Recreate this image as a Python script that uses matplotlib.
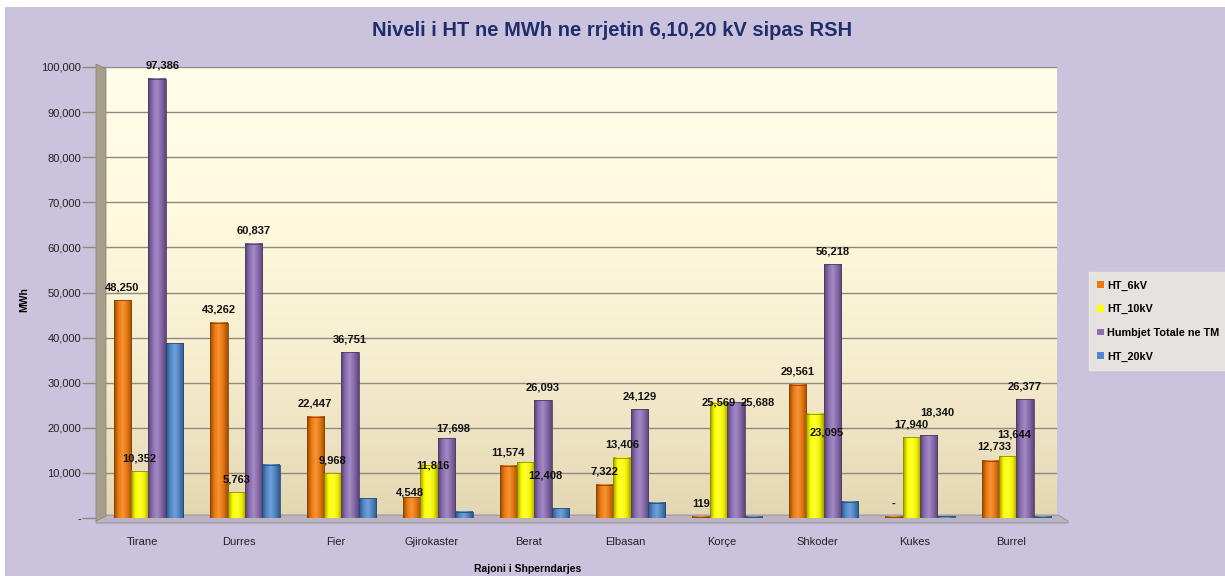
import numpy as np
import matplotlib
matplotlib.use('Agg')
import matplotlib.pyplot as plt
from matplotlib.colors import LinearSegmentedColormap, to_rgb
from matplotlib.patches import Rectangle, Patch, Polygon
from matplotlib.ticker import FuncFormatter

regions = ['Tirane', 'Durres', 'Fier', 'Gjirokaster', 'Berat',
           'Elbasan', 'Korçe', 'Shkoder', 'Kukes', 'Burrel']
ht_6kv = [48250, 43262, 22447, 4548, 11574, 7322, 119, 29561, 0, 12733]
ht_10kv = [10352, 5763, 9968, 11816, 12408, 13406, 25569, 23095, 17940, 13644]
humbjet = [97386, 60837, 36751, 17698, 26093, 24129, 25688, 56218, 18340, 26377]
ht_20kv = [38784, 11812, 4336, 1334, 2111, 3401, 300, 3562, 400, 200]

series = [
    ('HT_6kV', ht_6kv, '#F07A0C', True),
    ('HT_10kV', ht_10kv, '#FFFF00', True),
    ('Humbjet Totale ne TM', humbjet, '#8C6DB3', True),
    ('HT_20kV', ht_20kv, '#4F88CC', False),
]

# label placement quirks of the original (pixels: dx, height of label centre above bar top)
label_nudge = {
    (2, 0): (6, 13),
    (0, 3): (-2, 5), (1, 3): (4, -1), (2, 3): (7, 10),
    (1, 4): (20, -13),
    (1, 6): (0, 0), (2, 6): (22, 0),
    (1, 7): (12, -19),
    (2, 8): (9, 23),
    (0, 9): (4, 14), (1, 9): (6, 22),
}

W, H = 1225, 576


def shade(color, f):
    r, g, b = to_rgb(color)
    if f < 1:
        return (r * f, g * f, b * f)
    return (r + (1 - r) * (f - 1), g + (1 - g) * (f - 1), b + (1 - b) * (f - 1))


def cylinder(ax, x, h, w, color):
    # fake the rounded excel look with a horizontal gradient
    cmap = LinearSegmentedColormap.from_list(
        'c', [shade(color, 0.6), shade(color, 1.0), shade(color, 1.2),
              shade(color, 0.95), shade(color, 0.65)])
    grad = np.linspace(0, 1, 64).reshape(1, -1)
    ax.imshow(grad, cmap=cmap, aspect='auto', zorder=3,
              extent=(x - w / 2, x + w / 2, 0, h), interpolation='bilinear')
    ax.add_patch(Rectangle((x - w / 2, 0), w, h, fill=False,
                           edgecolor=shade(color, 0.55), lw=0.6, zorder=4))


def fig_poly(ax, pts, **kw):
    # polygon given in picture pixels (origin top-left)
    xy = [(px_ / W, 1 - py_ / H) for px_, py_ in pts]
    ax.add_patch(Polygon(xy, closed=True, transform=ax.figure.transFigure,
                         clip_on=False, **kw))


fig = plt.figure(figsize=(12.25, 5.76), dpi=100, facecolor='white')
fig.patches.append(Rectangle((0.004, 0.0), 0.996, 0.988, transform=fig.transFigure,
                             facecolor='#CBC3DD', edgecolor='none', zorder=-10))

ax = fig.add_axes([106 / W, 1 - 518 / H, (1057 - 106) / W, (518 - 67) / H])
ax.set_facecolor('none')

# plot area background gradient
bg = LinearSegmentedColormap.from_list('bg', ['#E3D6B2', '#F6EDCF', '#FFF9DE', '#FFFDEA'])
ax.imshow(np.linspace(0, 1, 256).reshape(-1, 1), cmap=bg, aspect='auto',
          extent=(0, 1, 0, 1), origin='lower', transform=ax.transAxes, zorder=0)

x = np.arange(len(regions))
w = 0.18
offsets = [-1.5 * w, -0.5 * w, 0.5 * w, 1.5 * w]
px = 72 / 100  # pixels -> points

handles = []
for si, ((name, vals, col, lab), off) in enumerate(zip(series, offsets)):
    for i, (xi, v) in enumerate(zip(x, vals)):
        h = max(v, 250)
        cylinder(ax, xi + off, h, w, col)
        if lab:
            txt = '-' if v == 0 else f'{v:,}'
            dx, dy = label_nudge.get((si, i), (0, 13))
            ax.annotate(txt, (xi + off, h), xytext=(dx * px, dy * px),
                        textcoords='offset points', ha='center', va='center',
                        fontsize=8, fontweight='bold', color='#111111', zorder=7,
                        family='Liberation Sans')
    handles.append(Patch(facecolor=col, edgecolor='none', label=name))

ax.set_xlim(-0.44, 9.42)
ax.set_ylim(0, 100000)
ax.set_yticks(np.arange(0, 100001, 10000))
ax.yaxis.set_major_formatter(FuncFormatter(lambda v, p: '-' if v == 0 else f'{int(v):,}'))
ax.grid(axis='y', color='#8E8A80', lw=1.0, zorder=1)
ax.set_xticks(x - 0.06)
ax.set_xticklabels(regions)
ax.tick_params(axis='x', length=0, pad=14, labelsize=8, labelcolor='#222222')
ax.tick_params(axis='y', length=17, width=1, color='#8E8A80', labelsize=8,
               labelcolor='#222222', pad=1)
for t in ax.get_xticklabels() + ax.get_yticklabels():
    t.set_family('Liberation Sans')
for s in ax.spines.values():
    s.set_visible(False)

# 3d side wall and floor
fig_poly(ax, [(96, 64), (106, 69), (106, 516), (96, 521)],
         facecolor='#A69F8B', edgecolor='#8F8878', lw=0.6, zorder=5)
fig_poly(ax, [(96, 521), (106, 515), (1058, 515), (1068, 521), (1068, 523), (96, 523)],
         facecolor='#B9B3C2', edgecolor='#8F8A96', lw=0.6, zorder=2)

fig.text(0.5, 0.947, 'Niveli i HT ne MWh ne rrjetin 6,10,20 kV sipas RSH',
         ha='center', va='center', fontsize=14.5, fontweight='bold',
         color='#1F2D6B', family='Liberation Sans')
fig.text(0.431, 0.012, 'Rajoni i Shperndarjes', ha='center', va='center',
         fontsize=7.5, fontweight='bold', family='Liberation Sans')
fig.text(0.02, 0.48, 'MWh', ha='center', va='center', rotation=90,
         fontsize=7.5, fontweight='bold', family='Liberation Sans')

leg = fig.legend(handles=handles, loc='upper left', bbox_to_anchor=(0.889, 0.527),
                 frameon=True, fancybox=False, handlelength=0.6, handleheight=0.6,
                 handletextpad=0.3, labelspacing=1.25, borderpad=0.75, borderaxespad=0,
                 prop={'family': 'Liberation Sans', 'weight': 'bold', 'size': 7.8})
leg.get_frame().set_facecolor('#EEEBE0')
leg.get_frame().set_edgecolor('#EEEBE0')

fig.savefig('out.png', dpi=100, facecolor=fig.get_facecolor())
